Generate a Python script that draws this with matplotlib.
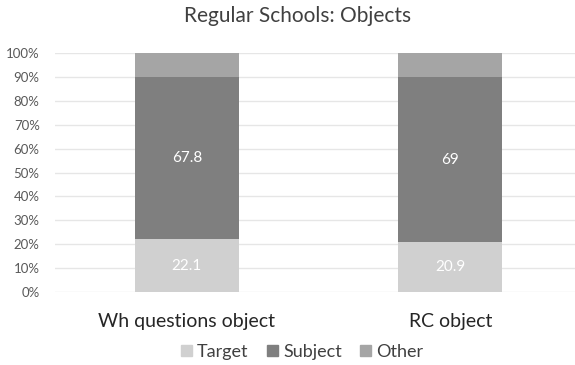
import matplotlib
matplotlib.use("Agg")
import matplotlib.pyplot as plt
from matplotlib.patches import Patch

categories = ["Wh questions object", "RC object"]
target = [22.1, 20.9]
subject = [67.8, 69.0]
other = [10.1, 10.1]
yticks = [0, 10, 20, 30, 40, 50, 60, 70, 80, 90, 100]

plt.rcParams["font.family"] = ["Lato", "DejaVu Sans"]

fig = plt.figure(figsize=(5.75, 3.65), dpi=100)
ax = fig.add_axes([55 / 575, 73 / 365, 527 / 575, 239 / 365])

c_target, c_subject, c_other = "#d0d0d0", "#7f7f7f", "#a5a5a5"
x = list(range(len(categories)))
w = 0.395
ax.bar(x, target, w, color=c_target, zorder=3)
ax.bar(x, subject, w, bottom=target, color=c_subject, zorder=3)
bottoms = [t + s for t, s in zip(target, subject)]
ax.bar(x, other, w, bottom=bottoms, color=c_other, zorder=3)

for i in x:
    ax.text(i, target[i] / 2, f"{target[i]:g}", ha="center", va="center",
            color="white", fontsize=11, zorder=4)
    ax.text(i, target[i] + subject[i] / 2, f"{subject[i]:g}", ha="center",
            va="center", color="white", fontsize=11, zorder=4)

ax.set_xlim(-0.5, 1.5)
ax.set_ylim(0, 100)
ax.set_yticks(yticks)
ax.set_yticklabels([f"{v}%" for v in yticks], color="#595959", fontsize=9.5)
ax.set_xticks(x)
ax.set_xticklabels(categories, fontsize=14, color="#262626")
ax.tick_params(axis="both", length=0)
ax.tick_params(axis="x", pad=15)
ax.tick_params(axis="y", pad=11)
ax.grid(axis="y", color="#e6e6e6", linewidth=1, zorder=0)
for s in ax.spines.values():
    s.set_visible(False)

fig.text(298 / 575, 1 - 16 / 365, "Regular Schools: Objects", ha="center",
         va="center", fontsize=15, color="#404040")

handles = [Patch(color=c_target, label="Target"),
           Patch(color=c_subject, label="Subject"),
           Patch(color=c_other, label="Other")]
fig.legend(handles=handles, loc="center", bbox_to_anchor=(302 / 575, 1 - 352 / 365),
           ncol=3, frameon=False, fontsize=13, handlelength=0.6, handleheight=0.6,
           handletextpad=0.3, columnspacing=1.0, labelcolor="#404040")

fig.savefig("out.png", dpi=100)
